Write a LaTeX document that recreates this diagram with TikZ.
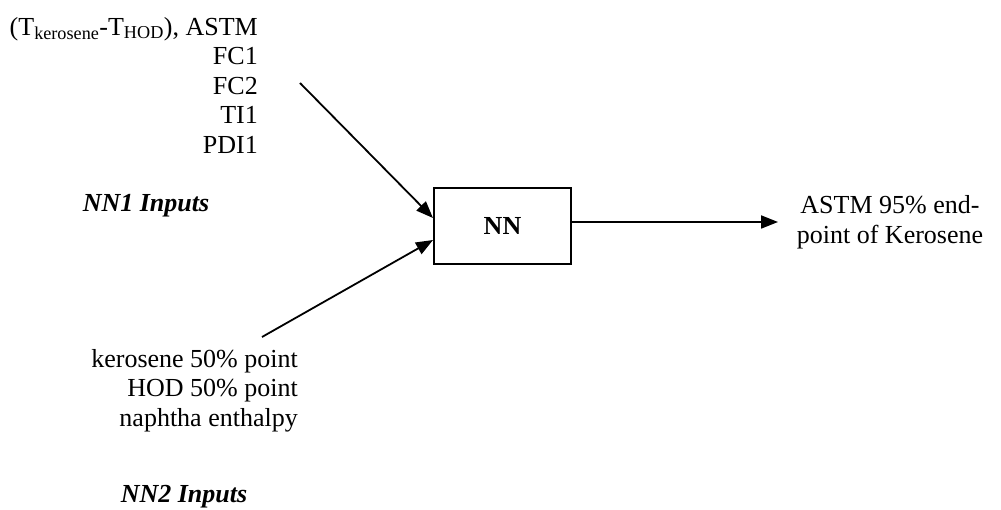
\documentclass[tikz,border=0pt]{standalone}
\usepackage{fontspec}
\setmainfont{Liberation Serif}
\usetikzlibrary{arrows.meta}

\tikzset{
  lbl/.style={inner sep=0pt, font=\fontsize{26}{29.5}\selectfont},
  grp/.style={inner sep=0pt, font=\fontsize{26}{29.5}\selectfont\bfseries\itshape},
  netbox/.style={draw, line width=2pt, minimum width=137pt, minimum height=76pt,
     font=\fontsize{26}{29.5}\selectfont\bfseries},
  feed/.style={line width=1.8pt, -{Triangle[length=17pt,width=13pt]}}
}

\begin{document}
\begin{tikzpicture}[x=1pt,y=-1pt]
\path[use as bounding box] (0,0) rectangle (1001,510);
  % the network block
  \node[netbox] (NN) at (502.5,226) {NN};
  % first group of inputs
  \node[lbl, align=right, anchor=north east] (inA) at (258,17)
     {(T\textsubscript{kerosene}-T\textsubscript{HOD}), ASTM\\FC1\\FC2\\TI1\\PDI1};
  \node[grp, anchor=base] (grpA) at (146,212) {NN1 Inputs};
  % second group of inputs
  \node[lbl, align=right, anchor=north east] (inB) at (298,349)
     {kerosene 50\% point\\HOD 50\% point\\naphtha enthalpy};
  \node[grp, anchor=base] (grpB) at (184,502) {NN2 Inputs};
  % output
  \node[lbl, align=center] (out) at (890,222) {ASTM 95\% end-\\point of Kerosene};

  \coordinate (a1) at (300,83);
  \coordinate (a2) at (262,337);
  \coordinate (a3) at (778,222);
  \draw[feed] (a1) -- ([yshift=8pt]NN.west);
  \draw[feed] (a2) -- ([yshift=-14pt]NN.west);
  \draw[feed] ([yshift=4pt]NN.east) -- (a3);
\end{tikzpicture}
\end{document}
